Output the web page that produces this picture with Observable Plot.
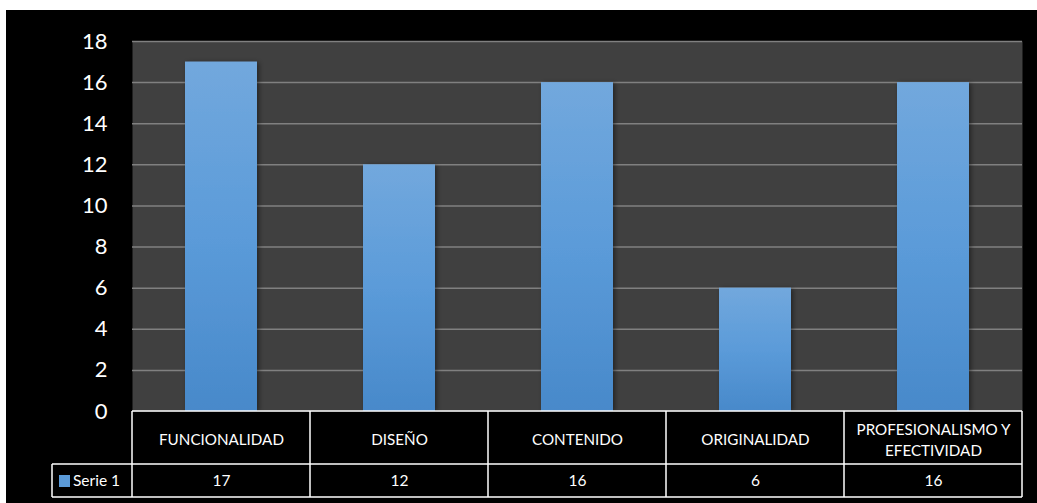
<!DOCTYPE html>
<html>
<head>
<meta charset="utf-8">
<script src="https://cdn.jsdelivr.net/npm/d3@7"></script>
<script src="https://cdn.jsdelivr.net/npm/@observablehq/plot@0.6"></script>
<style>
  html, body { margin: 0; padding: 0; background: #ffffff; }
  #wrap { padding: 10px 0 0 6px; width: 1031px; height: 493px; }
  #wrap svg { display: block; background: #000000; }
</style>
</head>
<body>
<div id="wrap"></div>
<script>
const categories = ["FUNCIONALIDAD", "DISEÑO", "CONTENIDO", "ORIGINALIDAD", "PROFESIONALISMO Y\nEFECTIVIDAD"];
const serie1 = [17, 12, 16, 6, 16];
const seriesName = "Serie 1";
const yTicks = [0, 2, 4, 6, 8, 10, 12, 14, 16, 18];

const data = categories.map((c, i) => ({cat: c, value: serie1[i]}));

const defs = () => {
  const ns = "http://www.w3.org/2000/svg";
  const g = document.createElementNS(ns, "defs");
  g.innerHTML = `
    <linearGradient id="barGrad" x1="0" y1="0" x2="0" y2="1">
      <stop offset="0" stop-color="#72a8dd"/>
      <stop offset="0.5" stop-color="#5b9bd9"/>
      <stop offset="1" stop-color="#4889ca"/>
    </linearGradient>
    <filter id="shadow" x="-20%" y="-10%" width="140%" height="120%">
      <feDropShadow dx="2" dy="1" stdDeviation="2.5" flood-color="#000" flood-opacity="0.45"/>
    </filter>`;
  return g;
};

const font = "Lato, 'Open Sans', sans-serif";

const plot = Plot.plot({
  width: 1031,
  height: 493,
  marginLeft: 126,
  marginRight: 15,
  marginTop: 31,
  marginBottom: 92,
  style: {background: "#000000", color: "#ffffff", fontFamily: font},
  x: {domain: categories, paddingInner: 0.596, paddingOuter: 0.298, axis: null},
  y: {domain: [0, 18], ticks: yTicks, label: null},
  marks: [
    defs,
    Plot.frame({fill: "#404040", stroke: null}),
    Plot.ruleY(yTicks.filter(t => t > 0), {stroke: "#808080", strokeWidth: 1.5}),
    Plot.barY(data, {x: "cat", y: "value", fill: "url(#barGrad)"}),
    Plot.axisY({ticks: yTicks, tickSize: 0, tickPadding: 25, fontSize: 22, fill: "#ffffff", tickFormat: d => String(d), label: null}),
    Plot.text(data, {x: "cat", y: 0, text: "cat", dy: 27, fill: "#ffffff", fontSize: 15.2, lineHeight: 1.4, fontFamily: font}),
    Plot.text(data, {x: "cat", y: 0, text: d => String(d.value), dy: 70, fill: "#ffffff", fontSize: 15.5, fontFamily: font})
  ]
});

// apply shadow to bars
d3.select(plot).selectAll("g[aria-label='bar'] rect").attr("filter", "url(#shadow)");

// table lines drawn from the x scale
const x = plot.scale("x");
const y = plot.scale("y");
const step = x.step;
const gap = (step - x.bandwidth) / 2;
const left = categories.map(c => x.apply(c) - gap);
const x0 = left[0];
const x1 = left[left.length - 1] + step;
const yBase = y.apply(0);
const row1 = yBase + 53;
const row2 = row1 + 33;
const legendLeft = x0 - 80;

const svg = d3.select(plot);
const tg = svg.append("g").attr("stroke", "#ffffff").attr("stroke-width", 1.5).attr("fill", "none");
tg.append("line").attr("x1", x0).attr("x2", x1).attr("y1", yBase).attr("y2", yBase);
tg.append("line").attr("x1", legendLeft).attr("x2", x1).attr("y1", row1).attr("y2", row1);
tg.append("line").attr("x1", legendLeft).attr("x2", x1).attr("y1", row2).attr("y2", row2);
tg.append("line").attr("x1", legendLeft).attr("x2", legendLeft).attr("y1", row1).attr("y2", row2);
left.concat([x1]).forEach(px => {
  tg.append("line").attr("x1", px).attr("x2", px).attr("y1", yBase).attr("y2", row2);
});

// legend cell
const lg = svg.append("g");
lg.append("rect").attr("x", legendLeft + 7).attr("y", row1 + 11).attr("width", 11).attr("height", 12).attr("fill", "#5b9bd9");
lg.append("text").attr("x", legendLeft + 21).attr("y", (row1 + row2) / 2).attr("dy", "0.35em")
  .attr("text-anchor", "start")
  .attr("fill", "#ffffff").attr("font-size", 15.5).attr("font-family", font).text(seriesName);

document.getElementById("wrap").appendChild(plot);
</script>
</body>
</html>
